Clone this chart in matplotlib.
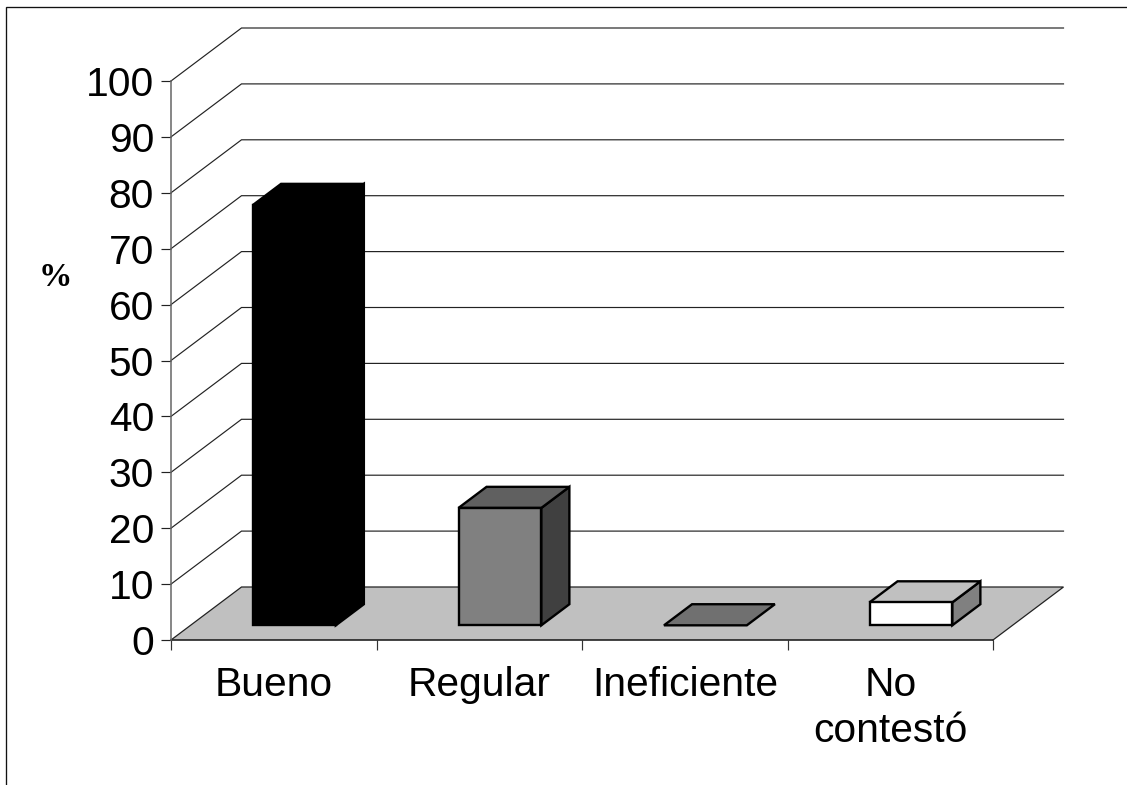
import matplotlib
matplotlib.use("Agg")
import matplotlib.pyplot as plt
from matplotlib.lines import Line2D
from matplotlib.patches import Polygon

categories = ["Bueno", "Regular", "Ineficiente", "No\ncontestó"]
values = [75.2, 21, 0, 4.1]
value_ticks = list(range(0, 101, 10))
front_colors = ["#000000", "#808080", "#707070", "#ffffff"]
top_colors = ["#000000", "#606060", "#707070", "#c0c0c0"]
side_colors = ["#000000", "#404040", "#505050", "#808080"]
axis_label = "%"

W, H = 1127, 785
plt.rcParams["font.family"] = ["Liberation Sans", "DejaVu Sans"]
fig = plt.figure(figsize=(W / 100, H / 100), dpi=100, facecolor="white")
ax = fig.add_axes([171 / W, 1 - 640 / H, (993 - 171) / W, 559 / H])
ax.set_xlim(0, len(categories))
ax.set_ylim(0, 100)
ax.patch.set_alpha(0)

# oblique projection: depth 0..1 shifts a point right and up
DEPTH_X = 70.5 / (822 / 4)
DEPTH_Y = 53 / 5.59


def pt(x, v, d=0.0):
    return (x + d * DEPTH_X, v + d * DEPTH_Y)


# floor
n = len(categories)
ax.add_patch(Polygon([pt(0, 0), pt(n, 0), pt(n, 0, 1), pt(0, 0, 1)], closed=True,
                     facecolor="#c0c0c0", edgecolor="none", zorder=1, clip_on=False))
ax.plot(*zip(pt(0, 0), pt(0, 0, 1), pt(n, 0, 1), pt(n, 0)), color="#222222", lw=0.9,
        zorder=2, clip_on=False, solid_joinstyle="miter")
ax.plot(*zip(pt(0, 0), pt(n, 0)), color="#222222", lw=1.2, zorder=2, clip_on=False)

# walls
for v in value_ticks[1:]:
    ax.plot(*zip(pt(0, v), pt(0, v, 1), pt(n, v, 1)), color="#222222", lw=0.85,
            zorder=2, clip_on=False, solid_joinstyle="miter")

# bars
D0, D1 = 0.277, 0.675
BAR_L, BAR_W = 0.304, 0.403
for i, val in enumerate(values):
    x0 = i + BAR_L
    x1 = x0 + BAR_W
    kw = dict(closed=True, edgecolor="black", lw=1.7, zorder=3, clip_on=False, joinstyle="miter")
    if val > 0:
        ax.add_patch(Polygon([pt(x1, 0, D0), pt(x1, 0, D1), pt(x1, val, D1), pt(x1, val, D0)],
                             facecolor=side_colors[i], **kw))
    ax.add_patch(Polygon([pt(x0, val, D0), pt(x1, val, D0), pt(x1, val, D1), pt(x0, val, D1)],
                         facecolor=top_colors[i], **kw))
    if val > 0:
        ax.add_patch(Polygon([pt(x0, 0, D0), pt(x1, 0, D0), pt(x1, val, D0), pt(x0, val, D0)],
                             facecolor=front_colors[i], **kw))

# axes
for s in ("top", "right", "bottom"):
    ax.spines[s].set_visible(False)
ax.spines["left"].set_color("#666666")
ax.spines["left"].set_linewidth(1.1)
ax.set_yticks(value_ticks)
ax.tick_params(axis="y", length=7.2, width=0.85, color="#222222", labelsize=29.3, pad=5)
ax.set_xticks(range(n + 1))
ax.set_xticklabels([])
ax.set_xticks([i + 0.5 for i in range(n)], minor=True)
ax.set_xticklabels(categories, minor=True, fontsize=29.3, linespacing=1.28)
ax.tick_params(axis="x", which="major", length=7.2, width=0.85, color="#333333")
ax.tick_params(axis="x", which="minor", length=0, pad=18.5)

fig.text(55 / W, 1 - 278 / H, axis_label, family=["Liberation Serif"], fontweight="bold",
         fontsize=24, ha="center", va="center")

# outer frame: top and left edges only
fig.add_artist(Line2D([6 / W, 6 / W, 1], [0, 1 - 7 / H, 1 - 7 / H], color="#111111", lw=0.95,
                      solid_joinstyle="miter"))

fig.savefig("out.png", dpi=100, facecolor="white")
